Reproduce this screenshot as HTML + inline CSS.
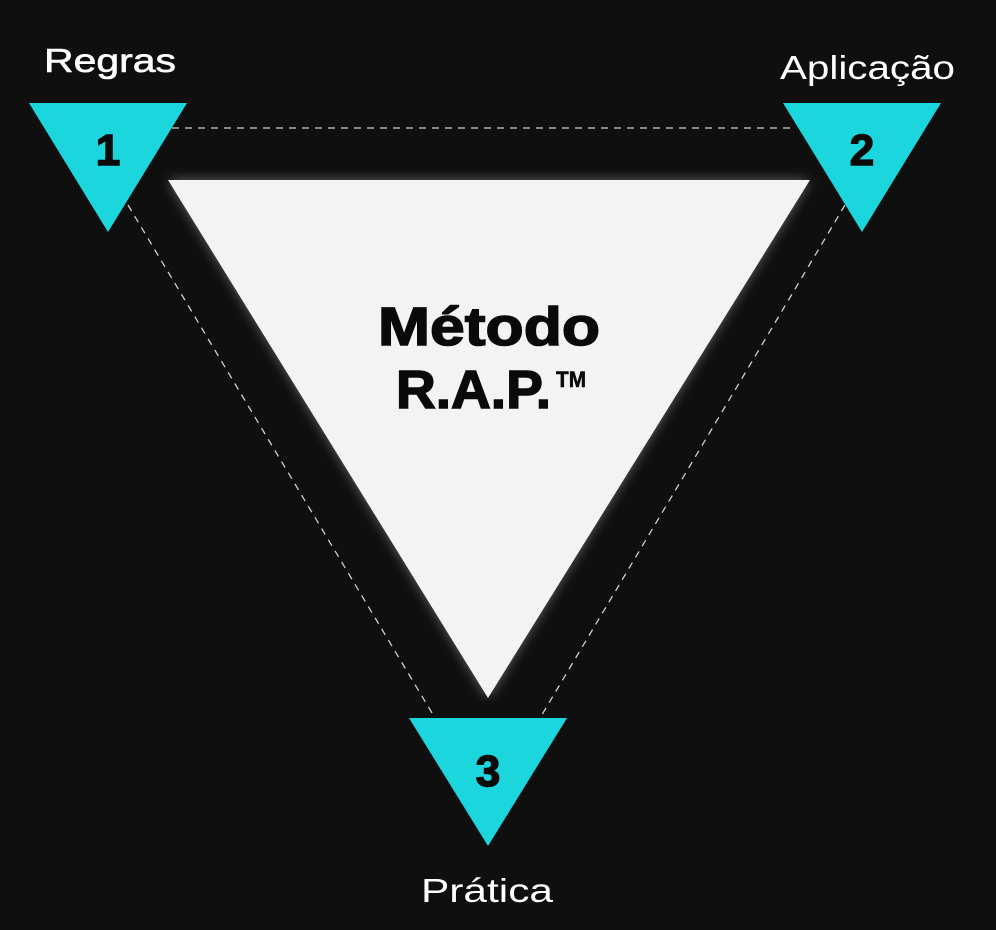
<!DOCTYPE html>
<html><head><meta charset="utf-8"><style>
html,body{margin:0;padding:0;background:#0f0f0f;}
svg{display:block}
</style></head><body>
<svg width="996" height="930" viewBox="0 0 996 930" xmlns="http://www.w3.org/2000/svg">
<defs>
<filter id="g" x="-20%" y="-20%" width="140%" height="140%">
<feGaussianBlur stdDeviation="6"/>
</filter>
</defs>
<rect width="996" height="930" fill="#0f0f0f"/>
<g stroke="#cfcfcf" stroke-width="1.3" stroke-dasharray="7,6" fill="none">
<line x1="172" y1="128" x2="795" y2="128"/>
<line x1="128" y1="205" x2="435" y2="718"/>
<line x1="845" y1="205" x2="540" y2="718"/>
</g>
<polygon points="168,180 810,180 488,698" fill="#ffffff" opacity="0.35" filter="url(#g)"/>
<polygon points="168,180 810,180 488,698" fill="#f3f3f3"/>
<g fill="#1bd7dd">
<polygon points="29,103 187,103 108,232"/>
<polygon points="783,103 941,103 862,232"/>
<polygon points="409,718 567,718 488,846"/>
</g>
<g font-family="Liberation Sans, sans-serif" font-weight="bold" fill="#0a0a0a" stroke="#0a0a0a" stroke-width="1.5">
<text x="108" y="165" font-size="44" text-anchor="middle">1</text>
<text x="862" y="165" font-size="44" text-anchor="middle">2</text>
<text x="488" y="786" font-size="44" text-anchor="middle">3</text>
<text x="378" y="345" font-size="54" textLength="222" lengthAdjust="spacingAndGlyphs">Método</text>
<text x="396" y="408" font-size="54" textLength="155" lengthAdjust="spacingAndGlyphs">R.A.P.</text>
<text x="556" y="387" font-size="22" stroke-width="0.5" textLength="30" lengthAdjust="spacingAndGlyphs">TM</text>
</g>
<g font-family="Liberation Sans, sans-serif" fill="#ffffff" font-size="33">
<text x="44" y="72" textLength="132" lengthAdjust="spacingAndGlyphs" stroke="#fff" stroke-width="0.6">Regras</text>
<text x="780" y="79" textLength="175" lengthAdjust="spacingAndGlyphs">Aplicação</text>
<text x="421" y="902" textLength="132" lengthAdjust="spacingAndGlyphs">Prática</text>
</g>
</svg>
</body></html>
